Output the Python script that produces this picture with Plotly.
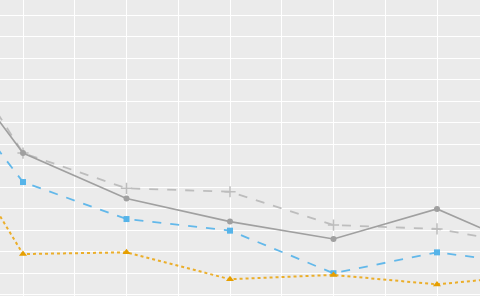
import plotly.graph_objects as go

# x positions (index of category); -1 and 5 lie outside the visible crop
x_vals = [-1, 0, 1, 2, 3, 4, 5]

gray_solid = [13.07, 6.58, 4.47, 3.39, 2.58, 3.98, 1.90]
gray_dashed = [14.1, 6.58, 4.94, 4.78, 3.23, 3.05, 2.20]
blue_dashed = [11.51, 5.23, 3.51, 2.97, 0.99, 1.96, 1.34]
orange_dotted = [9.84, 1.88, 1.96, 0.71, 0.91, 0.47, 0.94]

fig = go.Figure()

fig.add_trace(go.Scatter(
    x=x_vals, y=gray_dashed, mode="lines+markers",
    line=dict(color="#BDBDBD", width=1.8, dash="dash"),
    marker=dict(symbol="cross-thin", size=8, color="#BDBDBD",
                line=dict(color="#BDBDBD", width=1.5)),
    showlegend=False))
fig.add_trace(go.Scatter(
    x=x_vals, y=gray_solid, mode="lines+markers",
    line=dict(color="#A0A0A0", width=1.6),
    marker=dict(symbol="circle", size=6, color="#A0A0A0"),
    showlegend=False))
fig.add_trace(go.Scatter(
    x=x_vals, y=blue_dashed, mode="lines+markers",
    line=dict(color="#62B8EA", width=1.8, dash="dash"),
    marker=dict(symbol="square", size=6, color="#56B4E9"),
    showlegend=False))
fig.add_trace(go.Scatter(
    x=x_vals, y=orange_dotted, mode="lines+markers",
    line=dict(color="#EBAE2A", width=2, dash="dot"),
    marker=dict(symbol="triangle-up", size=7, color="#E69F00"),
    showlegend=False))

fig.update_layout(
    width=480, height=296,
    margin=dict(l=0, r=0, t=0, b=0),
    plot_bgcolor="#EBEBEB", paper_bgcolor="#EBEBEB",
    xaxis=dict(range=[-0.2222, 4.4155], tick0=0, dtick=0.5,
               showgrid=True, gridcolor="white", gridwidth=1.3,
               zeroline=False, showticklabels=False, ticks=""),
    yaxis=dict(range=[-0.07, 13.70], tick0=0, dtick=1,
               showgrid=True, gridcolor="white", gridwidth=1.3,
               zeroline=False, showticklabels=False, ticks=""),
)

fig.write_html("out.html")
